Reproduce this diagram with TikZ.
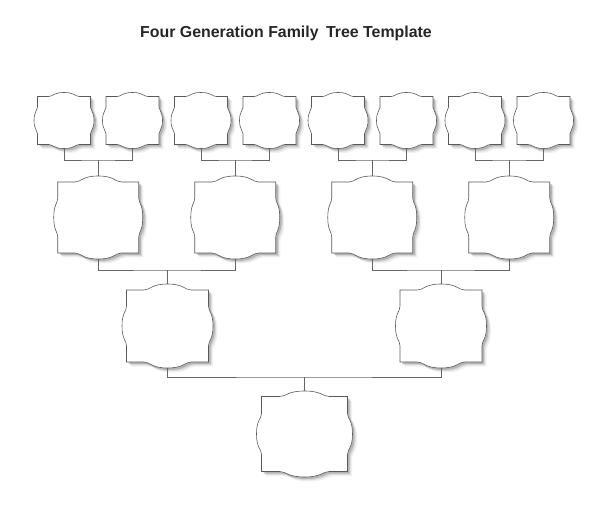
\documentclass[tikz,border=0pt]{standalone}
\usepackage{fontspec}
\setmainfont{Liberation Sans}
\usetikzlibrary{calc}
\tikzset{
  box/.style={rectangle, inner sep=0pt, outer sep=0pt, draw=none},
  edge/.style={draw=black!60, line width=0.6pt},
  outline/.style={draw=black!65, line width=0.6pt, fill=white},
  shade1/.style={fill=black, opacity=0.16, draw=none},
  shade2/.style={fill=black, opacity=0.10, draw=none},
  shade3/.style={fill=black, opacity=0.06, draw=none},
}
\newcommand\plqpath[4]{%
 (-#1,#2) -- ({-0.58*#1},#2) .. controls ({-0.42*#1},#2) and ({-0.4*#1},{#2+#3}) .. (0,{#2+#3})
 .. controls ({0.4*#1},{#2+#3}) and ({0.42*#1},#2) .. ({0.58*#1},#2) -- (#1,#2)
 -- (#1,{0.55*#2}) .. controls (#1,{0.4*#2}) and ({#1+#4},{0.38*#2}) .. ({#1+#4},0)
 .. controls ({#1+#4},{-0.38*#2}) and (#1,{-0.4*#2}) .. (#1,{-0.55*#2}) -- (#1,-#2)
 -- ({0.58*#1},-#2) .. controls ({0.42*#1},-#2) and ({0.4*#1},{-#2-#3}) .. (0,{-#2-#3})
 .. controls ({-0.4*#1},{-#2-#3}) and ({-0.42*#1},-#2) .. ({-0.58*#1},-#2) -- (-#1,-#2)
 -- (-#1,{-0.55*#2}) .. controls (-#1,{-0.4*#2}) and ({-#1-#4},{-0.38*#2}) .. ({-#1-#4},0)
 .. controls ({-#1-#4},{0.38*#2}) and (-#1,{0.4*#2}) .. (-#1,{0.55*#2}) -- cycle}
% name, x, y(from top), half width, half height, top bulge, side bulge
\newcommand\plaque[7]{%
  \node[box, minimum width={2*#4pt}, minimum height={2*(#5+#6)*1pt}] (#1) at (#2,{531-#3}) {};
  \begin{scope}[shift={(#1.center)}]
    \begin{scope}[xshift=4.5pt, yshift=-4.5pt]\path[shade3] \plqpath{#4}{#5}{#6}{#7};\end{scope}
    \begin{scope}[xshift=3.2pt, yshift=-3.2pt]\path[shade2] \plqpath{#4}{#5}{#6}{#7};\end{scope}
    \begin{scope}[xshift=2pt, yshift=-2pt]\path[shade1] \plqpath{#4}{#5}{#6}{#7};\end{scope}
    \path[outline] \plqpath{#4}{#5}{#6}{#7};
  \end{scope}}
\begin{document}
\begin{tikzpicture}[x=1pt, y=1pt]
\useasboundingbox (0,0) rectangle (600,531);
\node[anchor=base, font=\fontsize{15.9}{18}\selectfont\bfseries, text=black!85, inner sep=0pt] (title) at (286,{531-37.5}) {Four Generation Family\hspace{3pt} Tree Template};
% top row
\plaque{t1}{64}{120.5}{26.5}{24}{4}{3.5}
\plaque{t2}{132.5}{120.5}{26.5}{24}{4}{3.5}
\plaque{t3}{201}{120.5}{26.5}{24}{4}{3.5}
\plaque{t4}{269.5}{120.5}{26.5}{24}{4}{3.5}
\plaque{t5}{338}{120.5}{26.5}{24}{4}{3.5}
\plaque{t6}{406.5}{120.5}{26.5}{24}{4}{3.5}
\plaque{t7}{475}{120.5}{26.5}{24}{4}{3.5}
\plaque{t8}{543.5}{120.5}{26.5}{24}{4}{3.5}
% second row
\plaque{m1}{98.25}{217.5}{40.5}{35.5}{6}{4}
\plaque{m2}{235.25}{217.5}{40.5}{35.5}{6}{4}
\plaque{m3}{372.25}{217.5}{40.5}{35.5}{6}{4}
\plaque{m4}{509.25}{217.5}{40.5}{35.5}{6}{4}
% third row
\plaque{g1}{167.5}{326}{41}{36}{6}{4.5}
\plaque{g2}{441}{326}{41}{36}{6}{4.5}
% root
\plaque{r}{304.5}{434}{43}{37.5}{5.5}{5}
% connectors
\coordinate (j1) at ($(m1.north)+(0,16)$);
\coordinate (j2) at ($(m2.north)+(0,16)$);
\coordinate (j3) at ($(m3.north)+(0,16)$);
\coordinate (j4) at ($(m4.north)+(0,16)$);
\coordinate (k1) at ($(g1.north)+(0,14)$);
\coordinate (k2) at ($(g2.north)+(0,14)$);
\coordinate (k0) at ($(r.north)+(0,14)$);
\draw[edge] (t1.south) |- (j1) -| (t2.south);
\draw[edge] (j1) -- (m1.north);
\draw[edge] (t3.south) |- (j2) -| (t4.south);
\draw[edge] (j2) -- (m2.north);
\draw[edge] (t5.south) |- (j3) -| (t6.south);
\draw[edge] (j3) -- (m3.north);
\draw[edge] (t7.south) |- (j4) -| (t8.south);
\draw[edge] (j4) -- (m4.north);
\draw[edge] (m1.south) |- (k1) -| (m2.south);
\draw[edge] (k1) -- (g1.north);
\draw[edge] (m3.south) |- (k2) -| (m4.south);
\draw[edge] (k2) -- (g2.north);
\draw[edge] (g1.south) |- (k0) -| (g2.south);
\draw[edge] (k0) -- (r.north);
\end{tikzpicture}
\end{document}
